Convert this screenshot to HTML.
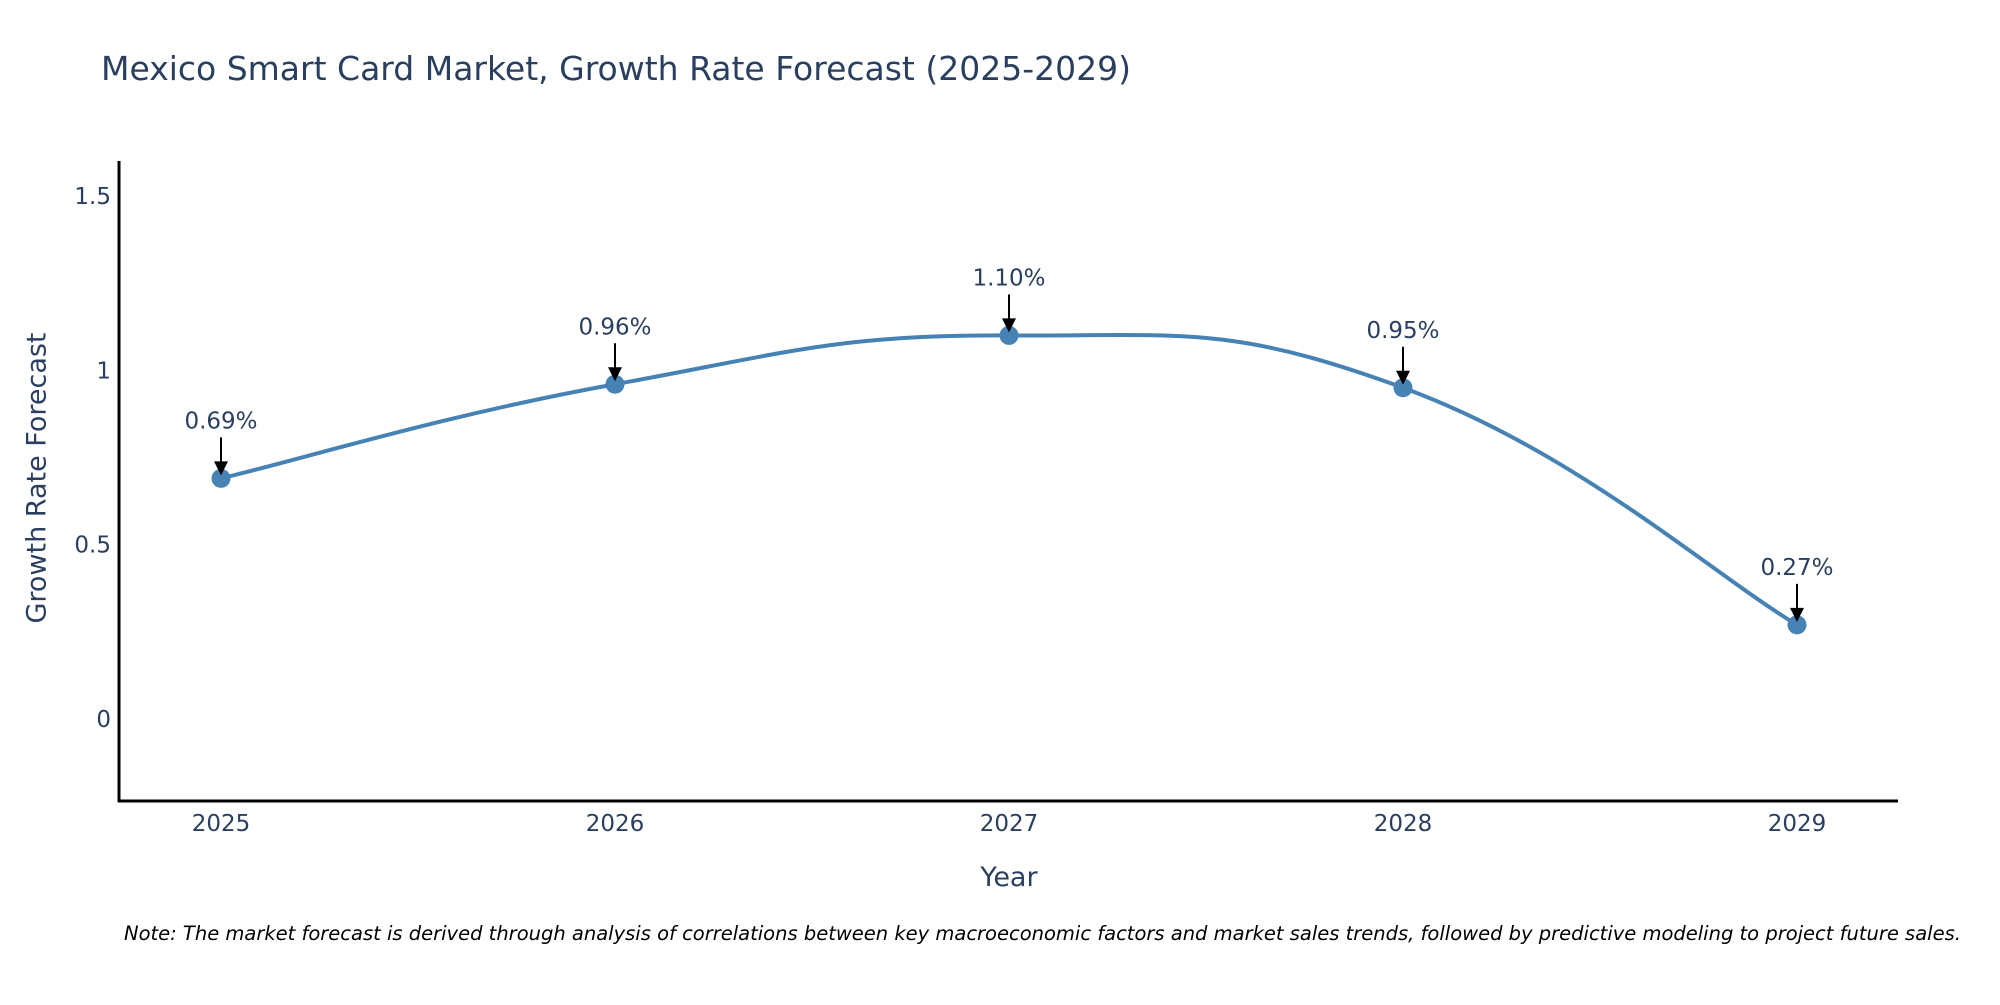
<!DOCTYPE html>
<html><head><meta charset="utf-8"><style>
html,body{margin:0;padding:0;background:#fff;}
svg text{font-family:"DejaVu Sans","Liberation Sans",sans-serif;fill:#2a3f5f;}
</style></head><body>
<svg width="2000" height="1000" viewBox="0 0 2000 1000" xmlns="http://www.w3.org/2000/svg">
<text x="101" y="80" font-size="33">Mexico Smart Card Market, Growth Rate Forecast (2025-2029)</text>
<g id="yticks"></g>
<g id="xticks"></g>
<path id="line" fill="none" stroke="#4682b4" stroke-width="4"></path>
<g id="marks"></g>
<g id="annots"></g>
<line x1="119" y1="161" x2="119" y2="802" stroke="#000" stroke-width="3"/>
<line x1="118" y1="801" x2="1898" y2="801" stroke="#000" stroke-width="3"/>
<text x="36" y="478" font-size="27" text-anchor="middle" transform="rotate(-90 36 478)" dy="0.35em">Growth Rate Forecast</text>
<text x="1009" y="886" font-size="27" text-anchor="middle">Year</text>
<text x="124" y="940" font-size="19.5" font-style="italic" style="fill:#000">Note: The market forecast is derived through analysis of correlations between key macroeconomic factors and market sales trends, followed by predictive modeling to project future sales.</text>
</svg>
<script>
const years = [2025, 2026, 2027, 2028, 2029];
const values = [0.69, 0.96, 1.10, 0.95, 0.27];
const labels = ["0.69%", "0.96%", "1.10%", "0.95%", "0.27%"];
const yTicks = [0, 0.5, 1, 1.5];
const yTickLabels = ["0", "0.5", "1", "1.5"];
const NS = "http://www.w3.org/2000/svg";
function xs(v){return 221 + (v - 2025) * 394;}
function ys(v){return 719 - v * 348.7;}
function mk(tag, attrs, parent){const e=document.createElementNS(NS,tag);for(const k in attrs)e.setAttribute(k,attrs[k]);parent.appendChild(e);return e;}
const yt=document.getElementById('yticks');
yTicks.forEach((t,i)=>{const e=mk('text',{x:111,y:ys(t),'font-size':23,'text-anchor':'end',dy:'0.35em'},yt);e.textContent=yTickLabels[i];

});
const xt=document.getElementById('xticks');
years.forEach(y=>{const e=mk('text',{x:xs(y),y:823,'font-size':23,'text-anchor':'middle',dy:'0.35em'},xt);e.textContent=String(y);

});
const pts=years.map((y,i)=>[xs(y),ys(values[i])]);
let d='M'+pts[0][0]+','+pts[0][1];
const s=0.22;
for(let i=0;i<pts.length-1;i++){
 const p0=pts[Math.max(0,i-1)],p1=pts[i],p2=pts[i+1],p3=pts[Math.min(pts.length-1,i+2)];
 const c1=[p1[0]+(p2[0]-p0[0])*s,p1[1]+(p2[1]-p0[1])*s];
 const c2=[p2[0]-(p3[0]-p1[0])*s,p2[1]-(p3[1]-p1[1])*s];
 d+=' C'+c1[0]+','+c1[1]+' '+c2[0]+','+c2[1]+' '+p2[0]+','+p2[1];
}
document.getElementById('line').setAttribute('d',d);
const mg=document.getElementById('marks'),ag=document.getElementById('annots');
pts.forEach((p,i)=>{
 const c=mk('circle',{cx:p[0],cy:p[1],r:9.5,fill:'#4682b4'},mg);
 
 
 const l=mk('line',{x1:p[0],y1:p[1]-41,x2:p[0],y2:p[1]-14,stroke:'#000','stroke-width':2},ag);
 
 
 const h=mk('polygon',{points:(p[0]-7)+','+(p[1]-17)+' '+(p[0]+7)+','+(p[1]-17)+' '+p[0]+','+(p[1]-3),fill:'#000'},ag);
 
 
 const t=mk('text',{x:p[0],y:p[1]-58,'font-size':23,'text-anchor':'middle',dy:'0.35em'},ag);
 t.textContent=labels[i];
 
 
});
</script>
</body></html>
